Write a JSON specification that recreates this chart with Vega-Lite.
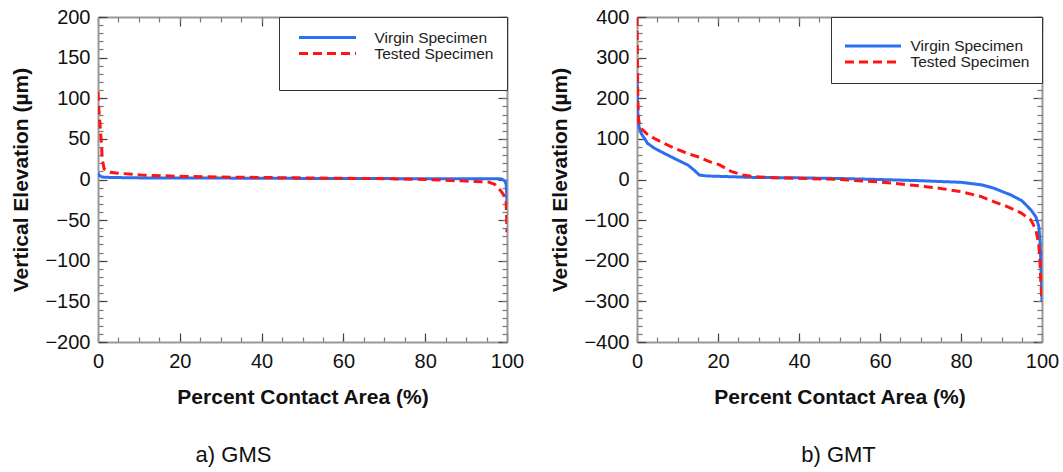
{
  "$schema": "https://vega.github.io/schema/vega-lite/v6.json",
  "background": "white",
  "padding": {"left": 10, "top": 7, "right": 5, "bottom": 5},
  "bounds": "flush",
  "spacing": 130,
  "config": {
    "font": "Liberation Sans",
    "view": {"stroke": null},
    "axis": {"labelFont": "Liberation Sans", "titleFont": "Liberation Sans", "labelFontSize": 20, "titleFontSize": 21, "labelColor": "#111", "titleColor": "#111", "grid": false, "domainColor": "#999", "domainWidth": 2, "tickColor": "#444", "tickWidth": 1.2, "labelFlush": false, "labelOverlap": false},
    "legend": {"labelFont": "Liberation Sans", "labelFontSize": 15.5, "labelColor": "#222", "titleFont": "Liberation Sans"}
  },
  "resolve": {"scale": {"color": "independent", "strokeDash": "independent"}},
  "datasets": {
    "gms_v": [
      {"series": "Virgin Specimen", "pct": 0, "elev": 8},
      {"series": "Virgin Specimen", "pct": 0.3, "elev": 5},
      {"series": "Virgin Specimen", "pct": 1, "elev": 3},
      {"series": "Virgin Specimen", "pct": 3, "elev": 2.5},
      {"series": "Virgin Specimen", "pct": 10, "elev": 2},
      {"series": "Virgin Specimen", "pct": 20, "elev": 2},
      {"series": "Virgin Specimen", "pct": 40, "elev": 1.5},
      {"series": "Virgin Specimen", "pct": 60, "elev": 1.2},
      {"series": "Virgin Specimen", "pct": 80, "elev": 1},
      {"series": "Virgin Specimen", "pct": 97.5, "elev": 1},
      {"series": "Virgin Specimen", "pct": 98.8, "elev": 0.5},
      {"series": "Virgin Specimen", "pct": 99.5, "elev": -2},
      {"series": "Virgin Specimen", "pct": 99.8, "elev": -6},
      {"series": "Virgin Specimen", "pct": 99.9, "elev": -15},
      {"series": "Virgin Specimen", "pct": 100, "elev": -29}
    ],
    "gms_t": [
      {"series": "Tested Specimen", "pct": 0, "elev": 108},
      {"series": "Tested Specimen", "pct": 0.1, "elev": 95},
      {"series": "Tested Specimen", "pct": 0.3, "elev": 80},
      {"series": "Tested Specimen", "pct": 0.6, "elev": 60},
      {"series": "Tested Specimen", "pct": 0.9, "elev": 40},
      {"series": "Tested Specimen", "pct": 1.0, "elev": 26},
      {"series": "Tested Specimen", "pct": 1.5, "elev": 13},
      {"series": "Tested Specimen", "pct": 3, "elev": 9},
      {"series": "Tested Specimen", "pct": 4.4, "elev": 8},
      {"series": "Tested Specimen", "pct": 10.5, "elev": 5.5},
      {"series": "Tested Specimen", "pct": 19.6, "elev": 4},
      {"series": "Tested Specimen", "pct": 30, "elev": 3},
      {"series": "Tested Specimen", "pct": 40, "elev": 2.5},
      {"series": "Tested Specimen", "pct": 50, "elev": 2},
      {"series": "Tested Specimen", "pct": 60, "elev": 1.5},
      {"series": "Tested Specimen", "pct": 70, "elev": 1},
      {"series": "Tested Specimen", "pct": 80, "elev": 0},
      {"series": "Tested Specimen", "pct": 85, "elev": -1},
      {"series": "Tested Specimen", "pct": 90, "elev": -2},
      {"series": "Tested Specimen", "pct": 95.4, "elev": -3},
      {"series": "Tested Specimen", "pct": 97, "elev": -6},
      {"series": "Tested Specimen", "pct": 98.5, "elev": -14},
      {"series": "Tested Specimen", "pct": 99.3, "elev": -20},
      {"series": "Tested Specimen", "pct": 99.8, "elev": -28},
      {"series": "Tested Specimen", "pct": 99.9, "elev": -45},
      {"series": "Tested Specimen", "pct": 100, "elev": -65}
    ],
    "gmt_v": [
      {"series": "Virgin Specimen", "pct": 0, "elev": 253},
      {"series": "Virgin Specimen", "pct": 0.1, "elev": 215},
      {"series": "Virgin Specimen", "pct": 0.2, "elev": 163},
      {"series": "Virgin Specimen", "pct": 0.5, "elev": 130},
      {"series": "Virgin Specimen", "pct": 1, "elev": 114},
      {"series": "Virgin Specimen", "pct": 2.6, "elev": 89},
      {"series": "Virgin Specimen", "pct": 4.3, "elev": 77},
      {"series": "Virgin Specimen", "pct": 6.7, "elev": 64.5},
      {"series": "Virgin Specimen", "pct": 10, "elev": 48},
      {"series": "Virgin Specimen", "pct": 12.5, "elev": 36},
      {"series": "Virgin Specimen", "pct": 14, "elev": 24},
      {"series": "Virgin Specimen", "pct": 15.4, "elev": 11},
      {"series": "Virgin Specimen", "pct": 17.4, "elev": 8.6},
      {"series": "Virgin Specimen", "pct": 29, "elev": 5},
      {"series": "Virgin Specimen", "pct": 40, "elev": 4},
      {"series": "Virgin Specimen", "pct": 50, "elev": 2.5},
      {"series": "Virgin Specimen", "pct": 60, "elev": 0},
      {"series": "Virgin Specimen", "pct": 70, "elev": -3},
      {"series": "Virgin Specimen", "pct": 80, "elev": -7},
      {"series": "Virgin Specimen", "pct": 85, "elev": -13},
      {"series": "Virgin Specimen", "pct": 88, "elev": -21},
      {"series": "Virgin Specimen", "pct": 92.3, "elev": -38},
      {"series": "Virgin Specimen", "pct": 95, "elev": -52},
      {"series": "Virgin Specimen", "pct": 96.5, "elev": -67},
      {"series": "Virgin Specimen", "pct": 97.5, "elev": -78},
      {"series": "Virgin Specimen", "pct": 98.5, "elev": -92},
      {"series": "Virgin Specimen", "pct": 99.2, "elev": -115},
      {"series": "Virgin Specimen", "pct": 99.5, "elev": -150},
      {"series": "Virgin Specimen", "pct": 99.7, "elev": -200},
      {"series": "Virgin Specimen", "pct": 99.85, "elev": -250},
      {"series": "Virgin Specimen", "pct": 100, "elev": -300}
    ],
    "gmt_t": [
      {"series": "Tested Specimen", "pct": 0, "elev": 400},
      {"series": "Tested Specimen", "pct": 0.1, "elev": 300},
      {"series": "Tested Specimen", "pct": 0.2, "elev": 200},
      {"series": "Tested Specimen", "pct": 0.35, "elev": 150},
      {"series": "Tested Specimen", "pct": 0.6, "elev": 137},
      {"series": "Tested Specimen", "pct": 1, "elev": 126},
      {"series": "Tested Specimen", "pct": 2.5, "elev": 112},
      {"series": "Tested Specimen", "pct": 4.3, "elev": 101},
      {"series": "Tested Specimen", "pct": 6.7, "elev": 89},
      {"series": "Tested Specimen", "pct": 9.2, "elev": 77},
      {"series": "Tested Specimen", "pct": 12.5, "elev": 64},
      {"series": "Tested Specimen", "pct": 15, "elev": 56},
      {"series": "Tested Specimen", "pct": 17.9, "elev": 44},
      {"series": "Tested Specimen", "pct": 20.4, "elev": 36},
      {"series": "Tested Specimen", "pct": 23.2, "elev": 20},
      {"series": "Tested Specimen", "pct": 26.1, "elev": 11},
      {"series": "Tested Specimen", "pct": 29, "elev": 7},
      {"series": "Tested Specimen", "pct": 35, "elev": 4},
      {"series": "Tested Specimen", "pct": 40, "elev": 3},
      {"series": "Tested Specimen", "pct": 50, "elev": 0},
      {"series": "Tested Specimen", "pct": 60, "elev": -6},
      {"series": "Tested Specimen", "pct": 70, "elev": -16},
      {"series": "Tested Specimen", "pct": 75, "elev": -22},
      {"series": "Tested Specimen", "pct": 80, "elev": -30},
      {"series": "Tested Specimen", "pct": 85, "elev": -42},
      {"series": "Tested Specimen", "pct": 88.2, "elev": -55},
      {"series": "Tested Specimen", "pct": 91, "elev": -65},
      {"series": "Tested Specimen", "pct": 94.8, "elev": -82},
      {"series": "Tested Specimen", "pct": 97.3, "elev": -100},
      {"series": "Tested Specimen", "pct": 98.5, "elev": -124},
      {"series": "Tested Specimen", "pct": 99.2, "elev": -160},
      {"series": "Tested Specimen", "pct": 99.5, "elev": -200},
      {"series": "Tested Specimen", "pct": 99.7, "elev": -250},
      {"series": "Tested Specimen", "pct": 100, "elev": -300}
    ]
  },
  "hconcat": [
    {
      "width": 409,
      "height": 325,
      "title": {"text": "a) GMS", "orient": "bottom", "anchor": "middle", "dx": -69, "offset": 38, "fontSize": 22, "fontWeight": "normal", "font": "Liberation Sans", "color": "#111"},
      "resolve": {"axis": {"x": "independent", "y": "independent"}},
      "layer": [
        {
          "data": {"name": "gms_v"},
          "mark": {"type": "line", "strokeOpacity": 0},
          "encoding": {
            "x": {"field": "pct", "type": "quantitative", "scale": {"domain": [0, 100], "nice": false}, "axis": {"orient": "bottom", "values": [0,5,10,15,20,25,30,35,40,45,50,55,60,65,70,75,80,85,90,95,100], "tickSize": -5, "tickColor": "#777", "labels": false, "domain": false, "title": null}},
            "y": {"field": "elev", "type": "quantitative", "scale": {"domain": [-200, 200], "nice": false, "zero": false}, "axis": {"orient": "left", "values": [-200,-190,-180,-170,-160,-150,-140,-130,-120,-110,-100,-90,-80,-70,-60,-50,-40,-30,-20,-10,0,10,20,30,40,50,60,70,80,90,100,110,120,130,140,150,160,170,180,190,200], "tickSize": -5, "tickColor": "#777", "labels": false, "domain": false, "title": null}}
          }
        },
        {
          "data": {"name": "gms_v"},
          "mark": {"type": "line", "strokeOpacity": 0},
          "encoding": {
            "x": {"field": "pct", "type": "quantitative", "axis": {"orient": "top", "values": [0,20,40,60,80,100], "tickSize": -9, "labels": false, "domain": true, "title": null}},
            "y": {"field": "elev", "type": "quantitative", "axis": {"orient": "right", "values": [-200,-150,-100,-50,0,50,100,150,200], "tickSize": -9, "labels": false, "domain": true, "title": null}}
          }
        },
        {
          "data": {"name": "gms_v"},
          "mark": {"type": "line", "strokeOpacity": 0},
          "encoding": {
            "x": {"field": "pct", "type": "quantitative", "axis": {"orient": "top", "values": [0,5,10,15,20,25,30,35,40,45,50,55,60,65,70,75,80,85,90,95,100], "tickSize": -5, "tickColor": "#777", "labels": false, "domain": false, "title": null}},
            "y": {"field": "elev", "type": "quantitative", "axis": {"orient": "right", "values": [-200,-190,-180,-170,-160,-150,-140,-130,-120,-110,-100,-90,-80,-70,-60,-50,-40,-30,-20,-10,0,10,20,30,40,50,60,70,80,90,100,110,120,130,140,150,160,170,180,190,200], "tickSize": -5, "tickColor": "#777", "labels": false, "domain": false, "title": null}}
          }
        },
        {
          "data": {"name": "gms_v"},
          "mark": {"type": "line", "strokeWidth": 3, "clip": true},
          "encoding": {
            "x": {"field": "pct", "type": "quantitative", "axis": {"orient": "bottom", "values": [0,20,40,60,80,100], "tickSize": -9, "labelPadding": 18, "title": "Percent Contact Area (%)", "titleFontWeight": "bold", "titlePadding": 15}},
            "y": {"field": "elev", "type": "quantitative", "axis": {"orient": "left", "values": [-200,-150,-100,-50,0,50,100,150,200], "tickSize": -9, "labelPadding": 17, "title": "Vertical Elevation (µm)", "titleFontWeight": "bold", "titlePadding": 13}},
            "color": {"field": "series", "type": "nominal", "scale": {"domain": ["Virgin Specimen", "Tested Specimen"], "range": ["#2b6ff2", "#ff1414"]}, "legend": {"orient": "top-right", "offset": 0, "title": " ", "titleOrient": "bottom", "titleFontSize": 9, "titlePadding": 6, "strokeColor": "#333", "fillColor": "white", "padding": 13, "labelFont": "Liberation Sans", "labelFontSize": 15.5, "symbolType": "stroke", "symbolSize": 3249, "symbolStrokeWidth": 3, "symbolOffset": 5.5, "labelOffset": 17, "clipHeight": 15, "rowPadding": 0}},
            "strokeDash": {"field": "series", "type": "nominal", "scale": {"domain": ["Virgin Specimen", "Tested Specimen"], "range": [[1, 0], [9, 5]]}, "legend": {"orient": "top-right", "offset": 0, "title": " ", "titleOrient": "bottom", "titleFontSize": 9, "titlePadding": 6, "strokeColor": "#333", "fillColor": "white", "padding": 13, "labelFont": "Liberation Sans", "labelFontSize": 15.5, "symbolType": "stroke", "symbolSize": 3249, "symbolStrokeWidth": 3, "symbolOffset": 5.5, "labelOffset": 17, "clipHeight": 15, "rowPadding": 0}}
          }
        },
        {
          "data": {"name": "gms_t"},
          "mark": {"type": "line", "strokeWidth": 3, "clip": true},
          "encoding": {
            "x": {"field": "pct", "type": "quantitative", "axis": null},
            "y": {"field": "elev", "type": "quantitative", "axis": null},
            "color": {"field": "series", "type": "nominal"},
            "strokeDash": {"field": "series", "type": "nominal"}
          }
        }
      ]
    },
    {
      "width": 405,
      "height": 325,
      "title": {"text": "b) GMT", "orient": "bottom", "anchor": "middle", "dx": -1, "offset": 38, "fontSize": 22, "fontWeight": "normal", "font": "Liberation Sans", "color": "#111"},
      "resolve": {"axis": {"x": "independent", "y": "independent"}},
      "layer": [
        {
          "data": {"name": "gmt_v"},
          "mark": {"type": "line", "strokeOpacity": 0},
          "encoding": {
            "x": {"field": "pct", "type": "quantitative", "scale": {"domain": [0, 100], "nice": false}, "axis": {"orient": "bottom", "values": [0,5,10,15,20,25,30,35,40,45,50,55,60,65,70,75,80,85,90,95,100], "tickSize": -5, "tickColor": "#777", "labels": false, "domain": false, "title": null}},
            "y": {"field": "elev", "type": "quantitative", "scale": {"domain": [-400, 400], "nice": false, "zero": false}, "axis": {"orient": "left", "values": [-400,-380,-360,-340,-320,-300,-280,-260,-240,-220,-200,-180,-160,-140,-120,-100,-80,-60,-40,-20,0,20,40,60,80,100,120,140,160,180,200,220,240,260,280,300,320,340,360,380,400], "tickSize": -5, "tickColor": "#777", "labels": false, "domain": false, "title": null}}
          }
        },
        {
          "data": {"name": "gmt_v"},
          "mark": {"type": "line", "strokeOpacity": 0},
          "encoding": {
            "x": {"field": "pct", "type": "quantitative", "axis": {"orient": "top", "values": [0,20,40,60,80,100], "tickSize": -9, "labels": false, "domain": true, "title": null}},
            "y": {"field": "elev", "type": "quantitative", "axis": {"orient": "right", "values": [-400,-300,-200,-100,0,100,200,300,400], "tickSize": -9, "labels": false, "domain": true, "title": null}}
          }
        },
        {
          "data": {"name": "gmt_v"},
          "mark": {"type": "line", "strokeOpacity": 0},
          "encoding": {
            "x": {"field": "pct", "type": "quantitative", "axis": {"orient": "top", "values": [0,5,10,15,20,25,30,35,40,45,50,55,60,65,70,75,80,85,90,95,100], "tickSize": -5, "tickColor": "#777", "labels": false, "domain": false, "title": null}},
            "y": {"field": "elev", "type": "quantitative", "axis": {"orient": "right", "values": [-400,-380,-360,-340,-320,-300,-280,-260,-240,-220,-200,-180,-160,-140,-120,-100,-80,-60,-40,-20,0,20,40,60,80,100,120,140,160,180,200,220,240,260,280,300,320,340,360,380,400], "tickSize": -5, "tickColor": "#777", "labels": false, "domain": false, "title": null}}
          }
        },
        {
          "data": {"name": "gmt_v"},
          "mark": {"type": "line", "strokeWidth": 3, "clip": true},
          "encoding": {
            "x": {"field": "pct", "type": "quantitative", "axis": {"orient": "bottom", "values": [0,20,40,60,80,100], "tickSize": -9, "labelPadding": 18, "title": "Percent Contact Area (%)", "titleFontWeight": "bold", "titlePadding": 15}},
            "y": {"field": "elev", "type": "quantitative", "axis": {"orient": "left", "values": [-400,-300,-200,-100,0,100,200,300,400], "tickSize": -9, "labelPadding": 17, "title": "Vertical Elevation (µm)", "titleFontWeight": "bold", "titlePadding": 13}},
            "color": {"field": "series", "type": "nominal", "scale": {"domain": ["Virgin Specimen", "Tested Specimen"], "range": ["#2b6ff2", "#ff1414"]}, "legend": {"orient": "top-right", "offset": 0, "title": " ", "titleOrient": "top", "titleFontSize": 6, "titlePadding": 3.5, "strokeColor": "#333", "fillColor": "white", "padding": 12, "labelFont": "Liberation Sans", "labelFontSize": 15.5, "symbolType": "stroke", "symbolSize": 3136, "symbolStrokeWidth": 3, "symbolOffset": 0.5, "labelOffset": 8, "clipHeight": 15, "rowPadding": 0}},
            "strokeDash": {"field": "series", "type": "nominal", "scale": {"domain": ["Virgin Specimen", "Tested Specimen"], "range": [[1, 0], [9, 5]]}, "legend": {"orient": "top-right", "offset": 0, "title": " ", "titleOrient": "top", "titleFontSize": 6, "titlePadding": 3.5, "strokeColor": "#333", "fillColor": "white", "padding": 12, "labelFont": "Liberation Sans", "labelFontSize": 15.5, "symbolType": "stroke", "symbolSize": 3136, "symbolStrokeWidth": 3, "symbolOffset": 0.5, "labelOffset": 8, "clipHeight": 15, "rowPadding": 0}}
          }
        },
        {
          "data": {"name": "gmt_t"},
          "mark": {"type": "line", "strokeWidth": 3, "clip": true},
          "encoding": {
            "x": {"field": "pct", "type": "quantitative", "axis": null},
            "y": {"field": "elev", "type": "quantitative", "axis": null},
            "color": {"field": "series", "type": "nominal"},
            "strokeDash": {"field": "series", "type": "nominal"}
          }
        }
      ]
    }
  ]
}
